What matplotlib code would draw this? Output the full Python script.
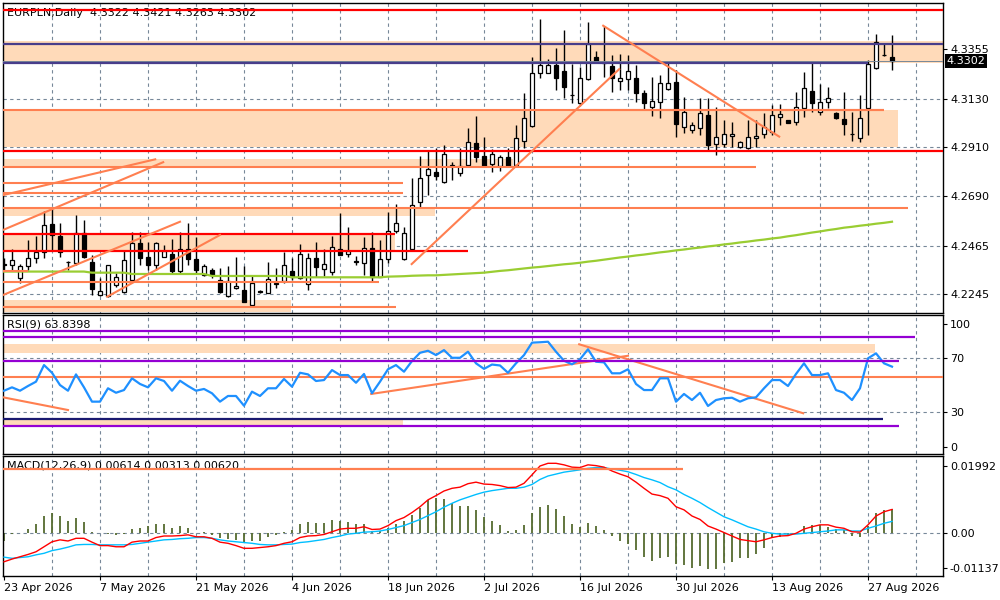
import numpy as np
import matplotlib
matplotlib.use('Agg')
import matplotlib.pyplot as plt
from matplotlib.ticker import FixedLocator, FixedFormatter

# ---------------- data ----------------
date_labels = ['23 Apr 2026', '7 May 2026', '21 May 2026', '4 Jun 2026', '18 Jun 2026',
               '2 Jul 2026', '16 Jul 2026', '30 Jul 2026', '13 Aug 2026', '27 Aug 2026']
date_bars = [0, 12, 24, 36, 48, 60, 72, 84, 96, 108]

opens = [4.2381, 4.2376, 4.2317, 4.2370, 4.2408, 4.2435, 4.2563, 4.2510, 4.2392, 4.2385,
         4.2521, 4.2392, 4.2240, 4.2234, 4.2287, 4.2256, 4.2309, 4.2475, 4.2412, 4.2377,
         4.2415, 4.2426, 4.2350, 4.2449, 4.2403, 4.2332, 4.2355, 4.2309, 4.2234, 4.2272,
         4.2264, 4.2194, 4.2260, 4.2252, 4.2292, 4.2306, 4.2350, 4.2317, 4.2289, 4.2408,
         4.2358, 4.2347, 4.2449, 4.2426, 4.2395, 4.2388, 4.2453, 4.2324, 4.2403, 4.2531,
         4.2403, 4.2449, 4.2661, 4.2784, 4.2799, 4.2755, 4.2826, 4.2796, 4.2831, 4.2929,
         4.2871, 4.2834, 4.2826, 4.2865, 4.2831, 4.2941, 4.3009, 4.3247, 4.3249, 4.3284,
         4.3257, 4.3148, 4.3110, 4.3219, 4.3319, 4.3298, 4.3280, 4.3213, 4.3219, 4.3224,
         4.3159, 4.3092, 4.3115, 4.3174, 4.3207, 4.3004, 4.2989, 4.2997, 4.3057, 4.2924,
         4.2926, 4.2962, 4.2911, 4.2906, 4.2952, 4.2970, 4.2982, 4.3047, 4.3033, 4.3024,
         4.3088, 4.3166, 4.3070, 4.3115, 4.3065, 4.3039, 4.2970, 4.2954, 4.3090, 4.3269,
         4.3329, 4.3322]
highs = [4.2409, 4.2449, 4.2382, 4.2488, 4.2510, 4.2623, 4.2631, 4.2568, 4.2394, 4.2604,
         4.2581, 4.2423, 4.2318, 4.2377, 4.2341, 4.2445, 4.2528, 4.2528, 4.2483, 4.2483,
         4.2468, 4.2494, 4.2528, 4.2566, 4.2506, 4.2382, 4.2364, 4.2364, 4.2373, 4.2412,
         4.2370, 4.2327, 4.2264, 4.2390, 4.2362, 4.2437, 4.2408, 4.2471, 4.2430, 4.2483,
         4.2449, 4.2509, 4.2614, 4.2548, 4.2418, 4.2506, 4.2528, 4.2488, 4.2616, 4.2654,
         4.2548, 4.2770, 4.2871, 4.2899, 4.2908, 4.2921, 4.2844, 4.2906, 4.2997, 4.3053,
         4.2956, 4.2902, 4.2876, 4.2906, 4.3012, 4.3156, 4.3322, 4.3491, 4.3310, 4.3360,
         4.3443, 4.3287, 4.3276, 4.3481, 4.3349, 4.3461, 4.3330, 4.3334, 4.3330, 4.3284,
         4.3171, 4.3231, 4.3239, 4.3299, 4.3261, 4.3140, 4.3024, 4.3133, 4.3133, 4.3095,
         4.3035, 4.3027, 4.2939, 4.3035, 4.3035, 4.3065, 4.3103, 4.3107, 4.3035, 4.3163,
         4.3254, 4.3299, 4.3197, 4.3186, 4.3070, 4.3163, 4.3070, 4.3148, 4.3307, 4.3423,
         4.3378, 4.3421]
lows = [4.2355, 4.2355, 4.2294, 4.2355, 4.2388, 4.2408, 4.2445, 4.2415, 4.2355, 4.2377,
        4.2408, 4.2241, 4.2236, 4.2232, 4.2278, 4.2251, 4.2302, 4.2377, 4.2355, 4.2355,
        4.2414, 4.2340, 4.2342, 4.2377, 4.2340, 4.2327, 4.2318, 4.2251, 4.2232, 4.2268,
        4.2211, 4.2194, 4.2251, 4.2249, 4.2272, 4.2294, 4.2309, 4.2312, 4.2264, 4.2324,
        4.2327, 4.2332, 4.2421, 4.2415, 4.2377, 4.2332, 4.2306, 4.2322, 4.2388, 4.2521,
        4.2400, 4.2445, 4.2641, 4.2694, 4.2763, 4.2749, 4.2763, 4.2781, 4.2823, 4.2846,
        4.2823, 4.2800, 4.2805, 4.2823, 4.2823, 4.2906, 4.3004, 4.3224, 4.3247, 4.3171,
        4.3133, 4.3110, 4.3103, 4.3216, 4.3292, 4.3231, 4.3163, 4.3171, 4.3171, 4.3118,
        4.3083, 4.3053, 4.3042, 4.3171, 4.2959, 4.2974, 4.2974, 4.2967, 4.2899, 4.2876,
        4.2914, 4.2914, 4.2906, 4.2903, 4.2914, 4.2952, 4.2967, 4.3012, 4.3021, 4.3012,
        4.3050, 4.3072, 4.3057, 4.3088, 4.3038, 4.2967, 4.2939, 4.2936, 4.2967, 4.3267,
        4.3326, 4.3263]
closes = [4.2377, 4.2399, 4.2370, 4.2408, 4.2435, 4.2559, 4.2513, 4.2435, 4.2390, 4.2521,
          4.2415, 4.2267, 4.2260, 4.2376, 4.2322, 4.2400, 4.2475, 4.2408, 4.2377, 4.2475,
          4.2441, 4.2350, 4.2449, 4.2403, 4.2355, 4.2370, 4.2332, 4.2256, 4.2305, 4.2282,
          4.2211, 4.2294, 4.2253, 4.2312, 4.2295, 4.2376, 4.2324, 4.2426, 4.2408, 4.2367,
          4.2381, 4.2460, 4.2423, 4.2441, 4.2389, 4.2453, 4.2324, 4.2403, 4.2531, 4.2566,
          4.2521, 4.2649, 4.2770, 4.2811, 4.2782, 4.2880, 4.2828, 4.2826, 4.2936, 4.2868,
          4.2826, 4.2879, 4.2865, 4.2826, 4.2952, 4.3042, 4.3247, 4.3284, 4.3284, 4.3227,
          4.3186, 4.3147, 4.3224, 4.3379, 4.3299, 4.3295, 4.3224, 4.3224, 4.3258, 4.3159,
          4.3113, 4.3121, 4.3201, 4.3201, 4.3014, 4.3070, 4.3012, 4.3065, 4.2921, 4.2956,
          4.2971, 4.2971, 4.2934, 4.2956, 4.2962, 4.3004, 4.3057, 4.3061, 4.3022, 4.3092,
          4.3178, 4.3110, 4.3118, 4.3133, 4.3042, 4.3018, 4.2971, 4.3045, 4.3287, 4.3390,
          4.3328, 4.3302]
ma_line = [4.2347, 4.2347, 4.2347, 4.2347, 4.2347, 4.2347, 4.2347, 4.2347, 4.2347, 4.2347,
           4.2347, 4.2342, 4.2342, 4.2342, 4.2342, 4.2342, 4.2336, 4.2336, 4.2336, 4.2336,
           4.2336, 4.2336, 4.2336, 4.2336, 4.2336, 4.2336, 4.2327, 4.2327, 4.2327, 4.2327,
           4.2327, 4.2327, 4.2327, 4.2327, 4.2327, 4.2327, 4.2321, 4.2321, 4.2321, 4.2321,
           4.2321, 4.2321, 4.2321, 4.2321, 4.2321, 4.2321, 4.2321, 4.2321, 4.2324, 4.2325,
           4.2326, 4.2328, 4.2329, 4.2330, 4.2330, 4.2332, 4.2334, 4.2336, 4.2338, 4.2340,
           4.2342, 4.2346, 4.2350, 4.2353, 4.2357, 4.2361, 4.2365, 4.2368, 4.2372, 4.2376,
           4.2380, 4.2383, 4.2387, 4.2392, 4.2396, 4.2401, 4.2406, 4.2411, 4.2415, 4.2420,
           4.2424, 4.2429, 4.2434, 4.2438, 4.2443, 4.2447, 4.2452, 4.2456, 4.2461, 4.2465,
           4.2470, 4.2474, 4.2479, 4.2483, 4.2488, 4.2492, 4.2497, 4.2501, 4.2507, 4.2512,
           4.2518, 4.2524, 4.2529, 4.2535, 4.2540, 4.2546, 4.2550, 4.2555, 4.2559, 4.2564,
           4.2568, 4.2573]

rsi = [46.0, 48.5, 46.0, 49.5, 52.7, 65.0, 59.3, 50.2, 46.0, 58.1,
       48.5, 37.9, 37.9, 47.8, 44.5, 46.5, 55.2, 51.0, 48.5, 55.2,
       53.2, 46.0, 53.4, 49.5, 46.0, 47.3, 44.1, 37.9, 42.1, 42.1,
       34.9, 45.3, 42.1, 47.8, 47.8, 54.7, 49.0, 59.3, 58.1, 53.2,
       53.9, 61.3, 57.6, 57.6, 51.9, 58.4, 44.1, 52.7, 61.9, 65.0,
       60.1, 68.0, 74.1, 75.6, 72.4, 76.1, 70.4, 70.4, 74.9, 66.3,
       62.2, 65.4, 64.7, 59.3, 66.3, 72.4, 81.6, 81.9, 82.3, 74.9,
       68.2, 65.6, 69.3, 76.7, 67.5, 67.0, 58.9, 58.9, 61.9, 51.0,
       46.5, 46.5, 55.2, 55.2, 37.9, 43.6, 39.1, 44.5, 34.7, 39.1,
       40.4, 40.8, 37.9, 40.4, 41.1, 47.8, 53.9, 53.9, 49.5, 58.4,
       66.3, 57.6, 57.6, 58.9, 46.5, 44.5, 39.1, 47.8, 70.0, 73.7,
       66.3, 63.84]

macd_hist = [-0.0020, -0.0002, 0.0001, 0.0011, 0.0023, 0.0046, 0.0054, 0.0046, 0.0032, 0.0041,
             0.0030, 0.0003, 0.0000, -0.0003, -0.0004, -0.0002, 0.0011, 0.0015, 0.0020, 0.0024,
             0.0024, 0.0015, 0.0019, 0.0015, 0.0002, 0.0003, -0.0004, -0.0013, -0.0016, -0.0017,
             -0.0023, -0.0020, -0.0020, -0.0009, -0.0004, 0.0004, 0.0009, 0.0024, 0.0030, 0.0026,
             0.0026, 0.0035, 0.0033, 0.0030, 0.0023, 0.0024, 0.0006, 0.0006, 0.0015, 0.0023,
             0.0033, 0.0048, 0.0065, 0.0087, 0.0091, 0.0089, 0.0080, 0.0072, 0.0072, 0.0061,
             0.0043, 0.0033, 0.0022, 0.0006, 0.0009, 0.0022, 0.0052, 0.0068, 0.0074, 0.0063,
             0.0045, 0.0024, 0.0017, 0.0026, 0.0019, 0.0009, -0.0006, -0.0019, -0.0029, -0.0043,
             -0.0061, -0.0071, -0.0063, -0.0061, -0.0080, -0.0082, -0.0089, -0.0085, -0.0094, -0.0093,
             -0.0078, -0.0074, -0.0065, -0.0065, -0.0055, -0.0039, -0.0009, -0.0009, -0.0004, 0.0000,
             0.0019, 0.0022, 0.0022, 0.0017, 0.0010, 0.0009, -0.0007, -0.0009, 0.0020, 0.0052,
             0.0061, 0.0062]
macd_main = [-0.0074, -0.0067, -0.0061, -0.0055, -0.0048, -0.0035, -0.0022, -0.0017, -0.0020, -0.0013,
             -0.0013, -0.0023, -0.0032, -0.0032, -0.0035, -0.0035, -0.0023, -0.0020, -0.0020, -0.0011,
             -0.0007, -0.0007, -0.0006, -0.0004, -0.0009, -0.0009, -0.0013, -0.0023, -0.0026, -0.0032,
             -0.0039, -0.0039, -0.0037, -0.0035, -0.0032, -0.0026, -0.0022, -0.0011, -0.0007, -0.0006,
             -0.0003, 0.0004, 0.0011, 0.0013, 0.0013, 0.0017, 0.0010, 0.0011, 0.0020, 0.0033,
             0.0041, 0.0054, 0.0069, 0.0087, 0.0098, 0.0110, 0.0117, 0.0120, 0.0129, 0.0133,
             0.0128, 0.0127, 0.0124, 0.0119, 0.0120, 0.0130, 0.0152, 0.0175, 0.0182, 0.0182,
             0.0178, 0.0172, 0.0171, 0.0178, 0.0176, 0.0172, 0.0162, 0.0154, 0.0147, 0.0133,
             0.0117, 0.0102, 0.0098, 0.0091, 0.0069, 0.0061, 0.0045, 0.0036, 0.0019, 0.0011,
             0.0002, -0.0007, -0.0016, -0.0019, -0.0022, -0.0017, -0.0011, -0.0007, -0.0006, 0.0000,
             0.0011, 0.0017, 0.0022, 0.0022, 0.0016, 0.0013, 0.0004, 0.0003, 0.0022, 0.0045,
             0.0056, 0.0062]
macd_signal = [-0.0062, -0.0065, -0.0063, -0.0061, -0.0056, -0.0052, -0.0045, -0.0041, -0.0036, -0.0030,
               -0.0029, -0.0029, -0.0030, -0.0030, -0.0030, -0.0030, -0.0029, -0.0026, -0.0023, -0.0020,
               -0.0017, -0.0016, -0.0014, -0.0013, -0.0011, -0.0011, -0.0013, -0.0017, -0.0020, -0.0022,
               -0.0024, -0.0026, -0.0029, -0.0030, -0.0030, -0.0029, -0.0028, -0.0024, -0.0022, -0.0019,
               -0.0016, -0.0011, -0.0007, -0.0002, 0.0000, 0.0003, 0.0004, 0.0006, 0.0010, 0.0015,
               0.0020, 0.0028, 0.0036, 0.0046, 0.0056, 0.0068, 0.0078, 0.0087, 0.0094, 0.0101,
               0.0107, 0.0111, 0.0114, 0.0117, 0.0117, 0.0120, 0.0127, 0.0140, 0.0149, 0.0154,
               0.0159, 0.0162, 0.0165, 0.0169, 0.0171, 0.0171, 0.0167, 0.0164, 0.0160, 0.0153,
               0.0145, 0.0139, 0.0132, 0.0121, 0.0113, 0.0101, 0.0091, 0.0080, 0.0067, 0.0055,
               0.0043, 0.0035, 0.0026, 0.0017, 0.0011, 0.0004, 0.0000, -0.0002, -0.0002, -0.0002,
               0.0000, 0.0002, 0.0004, 0.0006, 0.0009, 0.0009, 0.0006, 0.0006, 0.0013, 0.0019,
               0.0026, 0.0031]

# drawn objects: (top, bottom, from bar, to bar) and (level, from bar, to bar)
main_bands = [(4.3393, 4.3295, -1, 120), (4.3080, 4.2914, -1, 111.75), (4.2856, 4.2820, -1, 63.6),
              (4.2641, 4.2601, -1, 53.9), (4.2513, 4.2445, -1, 48.9), (4.2218, 4.2165, -1, 35.9)]
red_levels = [(4.3534, -1, 120), (4.2895, -1, 120), (4.2516, -1, 48.9), (4.2442, -1, 58)]
navy_levels = [(4.3381, -1, 120), (4.3292, -1, 108)]
coral_levels = [(4.3078, -1, 110), (4.3078, 71.75, 110), (4.2820, -1, 94), (4.2750, -1, 49.9),
                (4.2705, -1, 49.9), (4.2637, -1, 113), (4.2351, -1, 3), (4.2301, -1, 46.9),
                (4.2188, -1, 49)]
coral_trends = [((-0.1, 4.2694), (18.9, 4.2856)), ((-0.1, 4.2536), (19.9, 4.2843)),
                ((-0.1, 4.2241), (22.0, 4.2573)), ((12.9, 4.2233), (27.0, 4.2513)),
                ((50.96, 4.2381), (76.9, 4.3265)), ((74.9, 4.3462), (96.9, 4.2959))]
bid = 4.3302

rsi_bands = [(80.6, 73.7, -1, 108.9), (24.3, 20.6, -1, 49.9)]
rsi_purple = [(90.4, -1, 97), (86.0, -1, 113.9), (68.2, -1, 111.9), (20.1, -1, 111.9)]
rsi_navy = [(25.3, -1, 109.9)]
rsi_coral = [(56.4, -1, 120)]
rsi_trends = [((-0.1, 41.1), (8.0, 31.7)), ((45.9, 43.6), (78.0, 71.9)), ((71.9, 80.4), (99.9, 29.3))]

macd_coral = [(0.0167, -1, 84.9)]

price_ticks = [4.3355, 4.3130, 4.2910, 4.2690, 4.2465, 4.2245]

# ---------------- styling ----------------
PEACH = '#FFDAB9'
CORAL = '#FF7F50'
GRID = '#778899'
XLIM = (-0.125, 117.375)

fig = plt.figure(figsize=(10, 6), dpi=100)
ax1 = fig.add_axes([0.003, 0.4783, 0.940, 0.5167])
ax2 = fig.add_axes([0.003, 0.2433, 0.940, 0.2317])
ax3 = fig.add_axes([0.003, 0.040, 0.940, 0.2000])

x = np.arange(len(opens))

for ax in (ax1, ax2, ax3):
    ax.set_xlim(*XLIM)
    ax.yaxis.tick_right()
    ax.tick_params(axis='y', length=3, pad=2, labelsize=8, colors='black')
    for s in ax.spines.values():
        s.set_color('black')
        s.set_linewidth(1)
    for g in range(6, 118, 6):
        ax.axvline(g, color=GRID, lw=0.8, dashes=(3, 3), zorder=0.5)
    ax.set_xticks(date_bars)

ax1.tick_params(axis='x', length=0, labelbottom=False)
ax2.tick_params(axis='x', length=0, labelbottom=False)

# ---------------- main price panel ----------------
ax1.set_ylim(4.2159, 4.3565)
for p in price_ticks:
    ax1.axhline(p, color=GRID, lw=0.8, dashes=(3, 3), zorder=0.5)
ax1.yaxis.set_major_locator(FixedLocator(price_ticks))
ax1.yaxis.set_major_formatter(FixedFormatter(['%.4f' % p for p in price_ticks]))

for top, bot, x0, x1 in main_bands:
    ax1.fill_between([x0, x1], bot, top, color=PEACH, lw=0, zorder=1)

ax1.text(0.004, 0.985, 'EURPLN,Daily  4.3322 4.3421 4.3263 4.3302', transform=ax1.transAxes,
         fontsize=8, va='top', ha='left', zorder=1.5)

o, h, l, c = map(np.array, (opens, highs, lows, closes))
up = c >= o
body = np.maximum(np.abs(c - o), 0.00025)
ax1.vlines(x, l, h, color='black', lw=1, zorder=4)
ax1.bar(x[up], body[up], bottom=o[up], width=0.55, color='white', edgecolor='black', lw=0.9, zorder=5)
ax1.bar(x[~up], body[~up], bottom=c[~up], width=0.55, color='black', edgecolor='black', lw=0.9, zorder=5)

ax1.plot(x, ma_line, color='#9ACD32', lw=1.6, zorder=6)
ax1.axhline(bid, color=GRID, lw=0.7, zorder=6)

for p, x0, x1 in coral_levels:
    ax1.hlines(p, x0, x1, color=CORAL, lw=1.5, zorder=7)
for p, x0, x1 in red_levels:
    ax1.hlines(p, x0, x1, color='#FF0000', lw=1.6, zorder=7)
for p, x0, x1 in navy_levels:
    ax1.hlines(p, x0, x1, color='#483D8B', lw=1.6, zorder=7)
for (xa, ya), (xb, yb) in coral_trends:
    ax1.plot([xa, xb], [ya, yb], color=CORAL, lw=1.5, zorder=7)

ax1.text(1.004, bid, '%.4f' % bid, transform=ax1.get_yaxis_transform(), va='center', ha='left',
         fontsize=8, color='white', bbox=dict(facecolor='black', edgecolor='none', pad=1.2),
         zorder=10, clip_on=False)

# ---------------- RSI panel ----------------
ax2.set_ylim(-0.9, 102.1)
for v in (70, 30):
    ax2.axhline(v, color=GRID, lw=0.8, dashes=(3, 3), zorder=0.5)
ax2.yaxis.set_major_locator(FixedLocator([95.2, 70, 30, 4.5]))
ax2.yaxis.set_major_formatter(FixedFormatter(['100', '70', '30', '0']))

for top, bot, x0, x1 in rsi_bands:
    ax2.fill_between([x0, x1], bot, top, color=PEACH, lw=0, zorder=1)
ax2.text(0.004, 0.97, 'RSI(9) 63.8398', transform=ax2.transAxes, fontsize=8, va='top', ha='left',
         zorder=1.5)
for v, x0, x1 in rsi_coral:
    ax2.hlines(v, x0, x1, color=CORAL, lw=1.5, zorder=3)
for (xa, ya), (xb, yb) in rsi_trends:
    ax2.plot([xa, xb], [ya, yb], color=CORAL, lw=1.5, zorder=3)
ax2.plot(x, rsi, color='#1E90FF', lw=1.6, zorder=4)
for v, x0, x1 in rsi_purple:
    ax2.hlines(v, x0, x1, color='#9400D3', lw=1.6, zorder=5)
for v, x0, x1 in rsi_navy:
    ax2.hlines(v, x0, x1, color='#191970', lw=1.6, zorder=5)

# ---------------- MACD panel ----------------
ax3.set_ylim(-0.0111, 0.0201)
ax3.axhline(0, color=GRID, lw=0.8, dashes=(3, 3), zorder=0.5)
ax3.yaxis.set_major_locator(FixedLocator([0.01758, 0.0, -0.0091]))
ax3.yaxis.set_major_formatter(FixedFormatter(['0.01992', '0.00', '-0.01137']))
ax3.text(0.004, 0.965, 'MACD(12,26,9) 0.00614 0.00313 0.00620', transform=ax3.transAxes,
         fontsize=8, va='top', ha='left', zorder=1.5)
ax3.vlines(x, 0, macd_hist, color='#556B2F', lw=1.3, zorder=2)
ax3.plot(x, macd_signal, color='#00BFFF', lw=1.0, zorder=3)
ax3.plot(x, macd_main, color='#FF0000', lw=1.0, zorder=4)
for v, x0, x1 in macd_coral:
    ax3.hlines(v, x0, x1, color=CORAL, lw=1.6, zorder=5)

ax3.set_xticklabels(date_labels)
ax3.tick_params(axis='x', length=3, pad=2, labelsize=8, colors='black')
for lab in ax3.get_xticklabels():
    lab.set_horizontalalignment('left')

fig.savefig('out.png', dpi=100)
